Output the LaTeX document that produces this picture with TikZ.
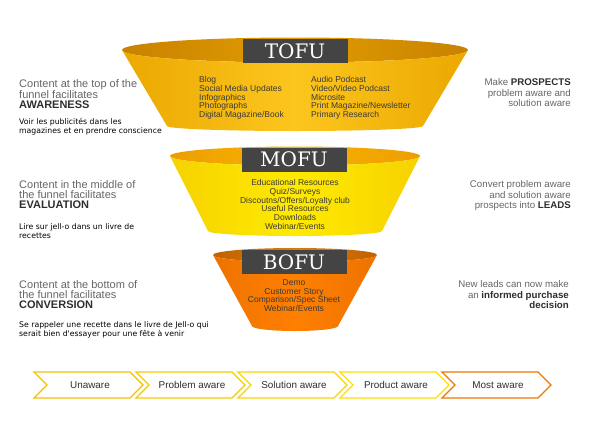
\documentclass[tikz,border=0pt]{standalone}
\usepackage{fontspec}
\setmainfont{Liberation Sans}
\newfontfamily\frfont{DejaVu Sans}
\newfontfamily\slab{DejaVu Serif}
\definecolor{txtgray}{HTML}{666666}
\definecolor{txtdark}{HTML}{2E2E2E}
\definecolor{itemtxt}{HTML}{3A3A3A}
\definecolor{boxgray}{HTML}{444444}
\definecolor{tofuin}{HTML}{C98200}
\definecolor{tofuinL}{HTML}{E29C00}
\definecolor{tofubody}{HTML}{FCC61E}
\definecolor{tofuside}{HTML}{EBA800}
\definecolor{mofuin}{HTML}{EE9E00}
\definecolor{mofuinL}{HTML}{F6B400}
\definecolor{mofubody}{HTML}{FFEA00}
\definecolor{mofuside}{HTML}{F6D200}
\definecolor{bofuin}{HTML}{C06200}
\definecolor{bofuinL}{HTML}{DA7A10}
\definecolor{bofubody}{HTML}{FF8000}
\definecolor{bofuside}{HTML}{EE7200}
\definecolor{chevA}{HTML}{F2C200}
\definecolor{chevB}{HTML}{F5CB00}
\definecolor{chevC}{HTML}{F8D400}
\definecolor{chevD}{HTML}{FBE000}
\definecolor{chevE}{HTML}{F07800}
\begin{document}
\begin{tikzpicture}[x=1pt,y=-1pt,
  labelbox/.style={fill=boxgray,text=white,minimum width=105pt,minimum height=24pt,inner sep=0pt,font=\slab\fontsize{20}{20}\selectfont},
  items/.style={inner sep=0pt,text=itemtxt,font=\fontsize{8.5}{8.7}\selectfont},
  lefthead/.style={anchor=north west,inner sep=0pt,align=left,text=txtgray,font=\fontsize{11}{10}\selectfont},
  french/.style={anchor=north west,inner sep=0pt,align=left,text=black,font=\frfont\fontsize{7.75}{9.5}\selectfont},
  righthead/.style={anchor=north east,inner sep=0pt,align=right,text=txtgray,font=\fontsize{9.7}{10.4}\selectfont},
  chevlabel/.style={inner sep=0pt,text=txtdark,font=\fontsize{9.9}{10}\selectfont},
  chevron/.style={line width=1.3pt,line join=miter}
]
\useasboundingbox (0,0) rectangle (600,424);
\fill[white] (0,0) rectangle (600,424);

% ---------- TOFU ----------
\shade[left color=tofuin,right color=tofuin,middle color=tofuinL] (295,50) ellipse[x radius=173pt,y radius=12.5pt];
\shade[left color=tofuside,right color=tofuside,middle color=tofubody]
  (122,50) arc[start angle=180,end angle=360,x radius=173pt,y radius=12.5pt]
  -- (423,126) arc[start angle=0,end angle=-180,x radius=128pt,y radius=5pt] -- cycle;
\node[labelbox] (tofu) at (295,51) {TOFU};
\node[items,anchor=north west,align=left] (tofuL) at (199,76.5) {Blog\\Social Media Updates\\Infographics\\Photographs\\Digital Magazine/Book};
\node[items,anchor=north west,align=left] (tofuR) at (311,76.5) {Audio Podcast\\Video/Video Podcast\\Microsite\\Print Magazine/Newsletter\\Primary Research};

% ---------- MOFU ----------
\shade[left color=mofuin,right color=mofuin,middle color=mofuinL] (295,156) ellipse[x radius=125pt,y radius=9.5pt];
\shade[left color=mofuside,right color=mofuside,middle color=mofubody]
  (170,156) arc[start angle=180,end angle=360,x radius=125pt,y radius=9.5pt]
  -- (382,231) arc[start angle=0,end angle=-180,x radius=87pt,y radius=5pt] -- cycle;
\node[labelbox] (mofu) at (294,159.5) {MOFU};
\node[items,anchor=north,align=center] (mofuI) at (295,179.5) {Educational Resources\\Quiz/Surveys\\Discoutns/Offers/Loyalty club\\Useful Resources\\Downloads\\Webinar/Events};

% ---------- BOFU ----------
\shade[left color=bofuin,right color=bofuin,middle color=bofuinL] (295,255) ellipse[x radius=82pt,y radius=7pt];
\shade[left color=bofuside,right color=bofuside,middle color=bofubody]
  (213,255) arc[start angle=180,end angle=360,x radius=82pt,y radius=7pt]
  -- (338,326) arc[start angle=0,end angle=-180,x radius=43pt,y radius=5pt] -- cycle;
\node[labelbox] (bofu) at (294,262) {BOFU};
\node[items,anchor=north,align=center] (bofuI) at (294,279.5) {Demo\\Customer Story\\Comparison/Spec Sheet\\Webinar/Events};

% ---------- left texts ----------
\node[lefthead] (l1) at (19,79) {Content at the top of the\\funnel facilitates\\{\color{txtdark}\bfseries AWARENESS}};
\node[french] (f1) at (19,118) {Voir les publicités dans les\\magazines et en prendre conscience};
\node[lefthead] (l2) at (19,180) {Content in the middle of\\the funnel facilitates\\{\color{txtdark}\bfseries EVALUATION}};
\node[french] (f2) at (19,223) {Lire sur jell-o dans un livre de\\recettes};
\node[lefthead] (l3) at (19,280) {Content at the bottom of\\the funnel facilitates\\{\color{txtdark}\bfseries CONVERSION}};
\node[french] (f3) at (19,321) {Se rappeler une recette dans le livre de Jell-o qui\\serait bien d'essayer pour une fête à venir};

% ---------- right texts ----------
\node[righthead] (r1) at (571,78.5) {Make {\color{txtdark}\bfseries PROSPECTS}\\problem aware and\\solution aware};
\node[righthead] (r2) at (571,180.5) {Convert problem aware\\and solution aware\\prospects into {\color{txtdark}\bfseries LEADS}};
\node[righthead] (r3) at (569,280.5) {New leads can now make\\an {\color{txtdark}\bfseries informed purchase}\\{\color{txtdark}\bfseries decision}};

% ---------- chevrons ----------
\foreach \L/\col/\txt/\nm in {34/chevA/Unaware/c1,136/chevB/Problem aware/c2,238/chevC/Solution aware/c3,340/chevD/Product aware/c4,442/chevE/Most aware/c5}{
  \draw[chevron,draw=\col] (\L,372) -- ({\L+96},372) -- ({\L+109},385) -- ({\L+96},398) -- (\L,398) -- ({\L+13},385) -- cycle;
  \node[chevlabel] (\nm) at ({\L+56},385) {\txt};
}
\end{tikzpicture}
\end{document}
